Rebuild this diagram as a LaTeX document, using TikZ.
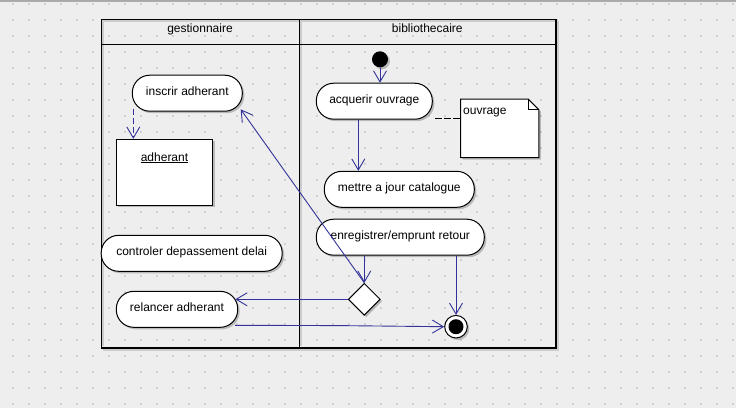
\documentclass[tikz,border=0pt]{standalone}
\usepackage{fontspec}
\setmainfont{Liberation Sans}
\usetikzlibrary{arrows.meta,shapes.geometric,shadows}
\definecolor{bgc}{RGB}{238,238,238}
\definecolor{dotc}{RGB}{208,208,208}
\definecolor{flowc}{RGB}{51,51,153}
\definecolor{topc}{RGB}{170,170,170}
\definecolor{shc}{RGB}{204,204,204}
\tikzset{
  lbl/.style={font=\fontsize{12pt}{14pt}\selectfont, inner sep=0pt},
  shad/.style={drop shadow={shadow xshift=2pt, shadow yshift=-2pt, fill=black, opacity=0.22}},
  act/.style={draw, line width=1pt, fill=white, rectangle, rounded corners=17.5pt, minimum height=36pt,
    inner sep=0pt, text height=8pt, text depth=4pt, shad,
    font=\fontsize{12pt}{14pt}\selectfont},
  flow/.style={draw=flowc, line width=0.9pt, -{Straight Barb[length=11pt,width=13pt]}},
  dflow/.style={flow, dash pattern=on 6pt off 3pt},
}
\begin{document}
\begin{tikzpicture}[x=1pt,y=-1pt]
\useasboundingbox (0,0) rectangle (736,408);
\fill[bgc] (0,0) rectangle (736,408);
\foreach \i in {0,...,45} {
  \foreach \j in {0,...,25} {
    \fill[dotc] (12+16*\i,3+16*\j) rectangle ++(2,2);
  }
}
\draw[topc, line width=2pt] (0,1) -- (736,1);
% swimlane frame
\fill[shc] (102,20) rectangle (555,22);
\fill[shc] (102,20) rectangle (104,346);
\fill[shc] (300,20) rectangle (302,346);
\fill[shc] (557,21) rectangle (559,350);
\fill[shc] (103,349) rectangle (559,351);
\draw[black, line width=1pt] (101.5,19.5) rectangle (555.5,347);
\draw[black, line width=1pt] (556.5,19) -- (556.5,348.5);
\draw[black, line width=1pt] (101,348) -- (557,348);
\draw[black, line width=1pt] (101.5,44.5) -- (556,44.5);
\draw[black, line width=1pt] (299.5,19.5) -- (299.5,347);
\node[lbl, anchor=base] (lane1) at (200,32) {gestionnaire};
\node[lbl, anchor=base] (lane2) at (427.3,32) {bibliothecaire};
% nodes
\node[act, minimum width=110pt] (ins) at (187.3,93.2) {inscrir adherant};
\node[draw, line width=1pt, fill=white, minimum width=96.4pt, minimum height=66pt, inner sep=0pt, shad] (adh) at (164.5,172.3) {};
\node[lbl, anchor=base] (adhl) at (164.5,161) {\underline{adherant}};
\node[circle, fill=black, minimum size=16pt, inner sep=0pt, shad] (init) at (380,59.3) {};
\node[act, minimum width=116pt] (acq) at (374.3,101.2) {acquerir ouvrage};
\node[minimum width=78pt, minimum height=58pt, inner sep=0pt] (note) at (499.7,128.3) {};
\draw[black, fill=white, line width=1pt, shad] (note.north west) -- ([xshift=-10.7pt]note.north east) -- ([yshift=-10.7pt]note.north east) -- (note.south east) -- (note.south west) -- cycle;
\draw[black, line width=0.8pt] ([xshift=-10.7pt]note.north east) -- ([xshift=-10.7pt,yshift=-10.7pt]note.north east) -- ([yshift=-10.7pt]note.north east);
\node[lbl, anchor=base west] (notel) at (463,114.5) {ouvrage};
\node[act, minimum width=150pt] (maj) at (399.3,189.3) {mettre a jour catalogue};
\node[act, minimum width=168pt] (enr) at (400.3,237.2) {enregistrer/emprunt retour};
\node[act, minimum width=181pt] (ctl) at (191.7,253.3) {controler depassement delai};
\node[act, minimum width=121.4pt] (rel) at (177,309.3) {relancer adherant};
\node[diamond, draw, fill=white, minimum width=32pt, minimum height=32pt, inner sep=0pt, line width=1pt, shad] (dia) at (364.3,299.3) {};
\node[circle, draw, fill=white, minimum size=22.6pt, inner sep=0pt, line width=1pt, shad] (fin) at (456,326.7) {};
\node[circle, fill=black, minimum size=15pt, inner sep=0pt] (finc) at (fin) {};
% helper coordinates
\coordinate (cx1) at (358.3,0);
\coordinate (ds) at (435,118.3);
\coordinate (da) at (133.3,108.7);
\coordinate (it) at (240.7,109.3);
\coordinate (rs) at (235,325.3);
\coordinate (rm) at (340,325.6);
% connectors
\draw[flow] (init.south) -- (init.south |- acq.north);
\draw[flow] (acq.south -| cx1) -- (maj.north -| cx1);
\draw[black, line width=0.9pt, dash pattern=on 6.5pt off 2.5pt] (ds) -- (ds -| note.west);
\draw[dflow] (da) -- (da |- adh.north);
\draw[flow] (enr.south -| dia) -- (dia.north);
\draw[flow] (enr.south -| fin) -- (fin.north);
\draw[flow] (dia.west) -- ([xshift=-2.9pt]dia.west -| rel.east);
\draw[flow] (rs) -- (rm) -- (fin.west);
\draw[flow] (dia.north) -- (it);
\end{tikzpicture}
\end{document}
